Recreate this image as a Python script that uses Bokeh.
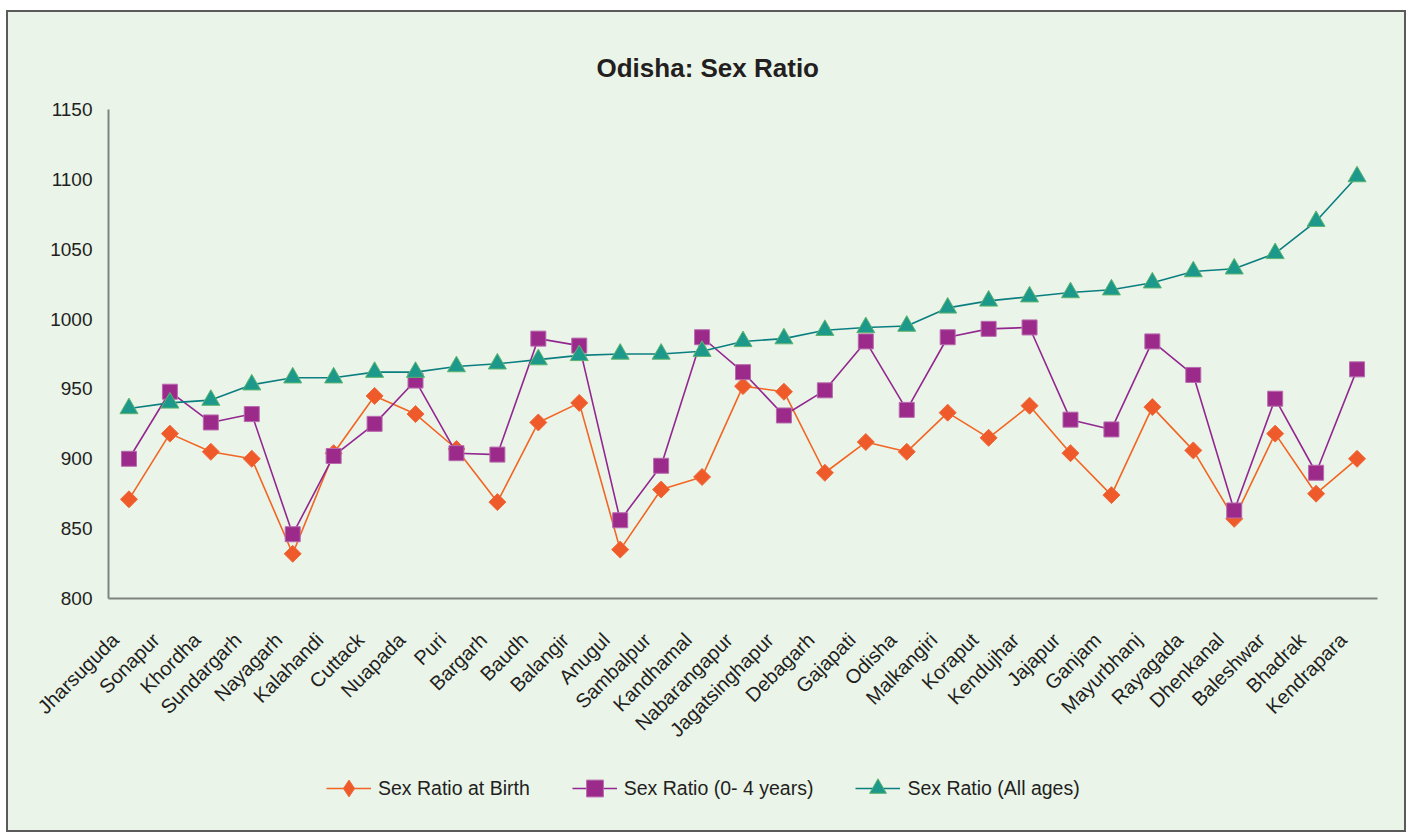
from math import pi
from bokeh.plotting import figure
from bokeh.models import Legend, LegendItem, Range1d, FixedTicker
from bokeh.layouts import column
from bokeh.embed import file_html
from bokeh.resources import INLINE

districts = ["Jharsuguda", "Sonapur", "Khordha", "Sundargarh", "Nayagarh", "Kalahandi",
             "Cuttack", "Nuapada", "Puri", "Bargarh", "Baudh", "Balangir", "Anugul",
             "Sambalpur", "Kandhamal", "Nabarangapur", "Jagatsinghapur", "Debagarh",
             "Gajapati", "Odisha", "Malkangiri", "Koraput", "Kendujhar", "Jajapur",
             "Ganjam", "Mayurbhanj", "Rayagada", "Dhenkanal", "Baleshwar", "Bhadrak",
             "Kendrapara"]
sr_birth = [871, 918, 905, 900, 832, 904, 945, 932, 907, 869, 926, 940, 835, 878, 887,
            952, 948, 890, 912, 905, 933, 915, 938, 904, 874, 937, 906, 857, 918, 875, 900]
sr_0_4 = [900, 948, 926, 932, 846, 902, 925, 956, 904, 903, 986, 981, 856, 895, 987,
          962, 931, 949, 984, 935, 987, 993, 994, 928, 921, 984, 960, 863, 943, 890, 964]
sr_all = [936, 940, 942, 953, 958, 958, 962, 962, 966, 968, 971, 974, 975, 975, 977,
          984, 986, 992, 994, 995, 1008, 1013, 1016, 1019, 1021, 1026, 1034, 1036, 1047,
          1070, 1102]
y_ticks = [800, 850, 900, 950, 1000, 1050, 1100, 1150]
series_labels = ["Sex Ratio at Birth", "Sex Ratio (0- 4 years)", "Sex Ratio (All ages)"]

BG = "#EAF4E9"
TXT = "#231F20"
BORDER = "#5A5A5A"
FONT = "Liberation Sans"

C_BIRTH_LINE, C_BIRTH_FILL, C_BIRTH_EDGE = "#F26522", "#EF5A2B", "#F0683A"
C_04_LINE, C_04_FILL, C_04_EDGE = "#93278F", "#9C2A8A", "#B86AAE"
C_ALL_LINE, C_ALL_FILL, C_ALL_EDGE = "#0B7F80", "#1D998C", "#5DB56E"

n = len(districts)
x_pos = list(range(n))                      # category index positions
LABEL_SHIFT = 0.34                          # rotated labels sit slightly left of their point
label_ticks = [i - LABEL_SHIFT for i in x_pos]

# ---- main chart ----
p = figure(x_range=Range1d(-0.5, n - 0.5), y_range=Range1d(800, 1150), width=1400, height=739,
           output_backend="svg", toolbar_location=None,
           background_fill_alpha=0, border_fill_color=BG,
           min_border_left=100, min_border_right=31, min_border_top=97, min_border_bottom=151)
p.styles = {"border-style": "solid", "border-color": BORDER, "border-width": "2px 2px 0px 2px"}
p.outline_line_color = None
p.xgrid.visible = False
p.ygrid.visible = False

p.title.text = "Odisha: Sex Ratio"
p.title.align = "left"
p.title.offset = 488
p.title.text_font = FONT
p.title.text_font_style = "bold"
p.title.text_font_size = "26px"
p.title.text_color = TXT
p.title.standoff = 54

for ax in (p.xaxis, p.yaxis):
    ax.axis_line_color = "#7F8380"
    ax.axis_line_width = 2
    ax.major_tick_line_color = None
    ax.minor_tick_line_color = None
    ax.major_label_text_font = FONT
    ax.major_label_text_color = TXT

p.yaxis.ticker = FixedTicker(ticks=y_ticks)
p.yaxis.major_label_text_font_size = "19px"
p.yaxis.major_label_standoff = 10
p.xaxis.ticker = FixedTicker(ticks=label_ticks)
p.xaxis.major_label_overrides = {t: d for t, d in zip(label_ticks, districts)}
p.xaxis.major_label_text_font_size = "20px"
p.xaxis.major_label_orientation = pi / 4
p.xaxis.major_label_standoff = 32

p.line(x_pos, sr_birth, line_color=C_BIRTH_LINE, line_width=1.6)
p.scatter(x_pos, sr_birth, marker="square", angle=pi / 4, size=12,
          fill_color=C_BIRTH_FILL, line_color=C_BIRTH_EDGE, line_width=1)
p.line(x_pos, sr_0_4, line_color=C_04_LINE, line_width=1.6)
p.scatter(x_pos, sr_0_4, marker="square", size=15,
          fill_color=C_04_FILL, line_color=C_04_EDGE, line_width=1)
p.line(x_pos, sr_all, line_color=C_ALL_LINE, line_width=1.6)
p.scatter(x_pos, sr_all, marker="triangle", size=18,
          fill_color=C_ALL_FILL, line_color=C_ALL_EDGE, line_width=1)

# ---- legend strip (proxy renderers hold NaN, so only their legend glyphs show) ----
q = figure(width=1400, height=83, x_range=Range1d(0, 1), y_range=Range1d(0, 1),
           output_backend="svg", toolbar_location=None, x_axis_type=None, y_axis_type=None,
           background_fill_alpha=0, border_fill_color=BG,
           min_border_left=0, min_border_right=0, min_border_top=0, min_border_bottom=0)
q.styles = {"border-style": "solid", "border-color": BORDER, "border-width": "0px 2px 2px 2px"}
q.outline_line_color = None
q.xgrid.visible = False
q.ygrid.visible = False

nan = float("nan")
lg1 = q.line([nan], [nan], line_color=C_BIRTH_LINE, line_width=1.6)
mk1 = q.scatter([nan], [nan], marker="diamond", fill_color=C_BIRTH_FILL, line_color=C_BIRTH_EDGE)
lg2 = q.line([nan], [nan], line_color=C_04_LINE, line_width=1.6)
mk2 = q.scatter([nan], [nan], marker="square", fill_color=C_04_FILL, line_color=C_04_EDGE)
lg3 = q.line([nan], [nan], line_color=C_ALL_LINE, line_width=1.6)
mk3 = q.scatter([nan], [nan], marker="triangle", fill_color=C_ALL_FILL, line_color=C_ALL_EDGE)

legend = Legend(items=[LegendItem(label=series_labels[0], renderers=[lg1, mk1]),
                       LegendItem(label=series_labels[1], renderers=[lg2, mk2]),
                       LegendItem(label=series_labels[2], renderers=[lg3, mk3])],
                orientation="horizontal", location=(218, 23))
legend.margin = 0
legend.padding = 0
legend.spacing = 42
legend.glyph_width = 45
legend.glyph_height = 42
legend.label_standoff = 7
legend.label_text_font = FONT
legend.label_text_font_size = "19.5px"
legend.label_text_color = TXT
legend.background_fill_alpha = 0
legend.border_line_color = None
q.add_layout(legend, "center")

layout = column(p, q, spacing=0,
                styles={"margin": "10px 0px 0px 6px", "background-color": BG})

open("out.html", "w").write(file_html(layout, INLINE))
